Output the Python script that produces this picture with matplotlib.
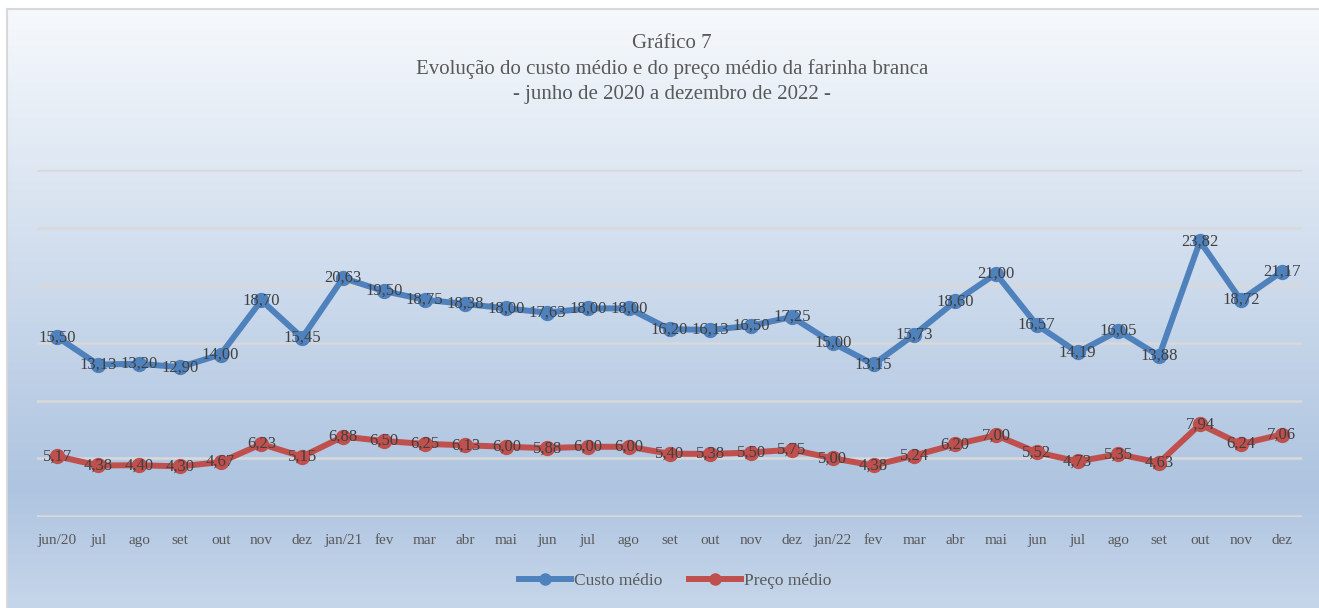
import numpy as np
import matplotlib
matplotlib.use("Agg")
import matplotlib.pyplot as plt
from matplotlib.colors import LinearSegmentedColormap

meses = ['jun/20', 'jul', 'ago', 'set', 'out', 'nov', 'dez',
         'jan/21', 'fev', 'mar', 'abr', 'mai', 'jun', 'jul', 'ago', 'set', 'out', 'nov', 'dez',
         'jan/22', 'fev', 'mar', 'abr', 'mai', 'jun', 'jul', 'ago', 'set', 'out', 'nov', 'dez']
custo = [15.50, 13.13, 13.20, 12.90, 14.00, 18.70, 15.45, 20.63, 19.50, 18.75, 18.38,
         18.00, 17.63, 18.00, 18.00, 16.20, 16.13, 16.50, 17.25, 15.00, 13.15, 15.73,
         18.60, 21.00, 16.57, 14.19, 16.05, 13.88, 23.82, 18.72, 21.17]
preco = [5.17, 4.38, 4.40, 4.30, 4.67, 6.23, 5.15, 6.88, 6.50, 6.25, 6.13,
         6.00, 5.88, 6.00, 6.00, 5.40, 5.38, 5.50, 5.75, 5.00, 4.38, 5.24,
         6.20, 7.00, 5.52, 4.73, 5.35, 4.63, 7.94, 6.24, 7.06]

serif = ['Liberation Serif', 'DejaVu Serif']
plt.rcParams['font.family'] = serif

W, H = 1319, 608
fig = plt.figure(figsize=(W / 100, H / 100), dpi=100)
fig.patch.set_facecolor('white')

# fundo com gradiente
bg = fig.add_axes([7 / W, 0, 1 - 7 / W, (H - 9) / H])
cmap = LinearSegmentedColormap.from_list('bg', [(0, '#f6f9fc'), (0.80, '#aec4e0'), (1, '#c6d6ea')])
grad = np.linspace(0, 1, 256).reshape(-1, 1)
bg.imshow(grad, aspect='auto', cmap=cmap, extent=[0, 1, 0, 1], origin='upper')
bg.set_xlim(0, 1)
bg.set_ylim(0, 1)
bg.set_xticks([])
bg.set_yticks([])
for s in bg.spines.values():
    s.set_color('#d9d9d9')
    s.set_linewidth(1.5)
bg.spines['right'].set_visible(False)
bg.spines['bottom'].set_visible(False)

ax = fig.add_axes([37 / W, (H - 517) / H, (1302 - 37) / W, (517 - 170) / H])
ax.patch.set_alpha(0)
x = np.arange(len(meses))
ax.plot(x, custo, color='#4f81bd', lw=4.3, marker='o', ms=10, label='Custo médio',
        solid_joinstyle='round', zorder=3)
ax.plot(x, preco, color='#c0504d', lw=4.3, marker='o', ms=10, label='Preço médio',
        solid_joinstyle='round', zorder=3)

for xi, v in zip(x, custo):
    ax.text(xi, v, f'{v:.2f}'.replace('.', ','), ha='center', va='center',
            fontsize=12, color='#404040', zorder=4)
for xi, v in zip(x, preco):
    ax.text(xi, v, f'{v:.2f}'.replace('.', ','), ha='center', va='center',
            fontsize=12, color='#404040', zorder=4)

ax.set_xlim(-0.5, len(meses) - 0.5)
ax.set_ylim(-0.09, 30)
ax.set_yticks(np.arange(0, 31, 5))
ax.yaxis.grid(True, color='#d9d9d9', lw=1.8)
ax.set_axisbelow(True)
ax.tick_params(axis='y', left=False, labelleft=False)
ax.set_xticks(x)
ax.set_xticklabels(meses, fontsize=11, color='#595959')
ax.tick_params(axis='x', length=0, pad=12)
for s in ax.spines.values():
    s.set_visible(False)

fig.text(672 / W, 1 - 43 / H, 'Gráfico 7', ha='center', va='center', fontsize=15, color='#595959')
fig.text(672 / W, 1 - 69 / H, 'Evolução do custo médio e do preço médio da farinha branca',
         ha='center', va='center', fontsize=15, color='#595959')
fig.text(672 / W, 1 - 94 / H, '- junho de 2020 a dezembro de 2022 -',
         ha='center', va='center', fontsize=15, color='#595959')

leg = fig.legend(loc='center', bbox_to_anchor=(675 / W, 1 - 581 / H), ncol=2, frameon=False,
                 fontsize=12.5, handlelength=3.0, handletextpad=0.2, columnspacing=1.5,
                 markerscale=0.8)
for t in leg.get_texts():
    t.set_color('#595959')

fig.savefig('out.png', dpi=100)
